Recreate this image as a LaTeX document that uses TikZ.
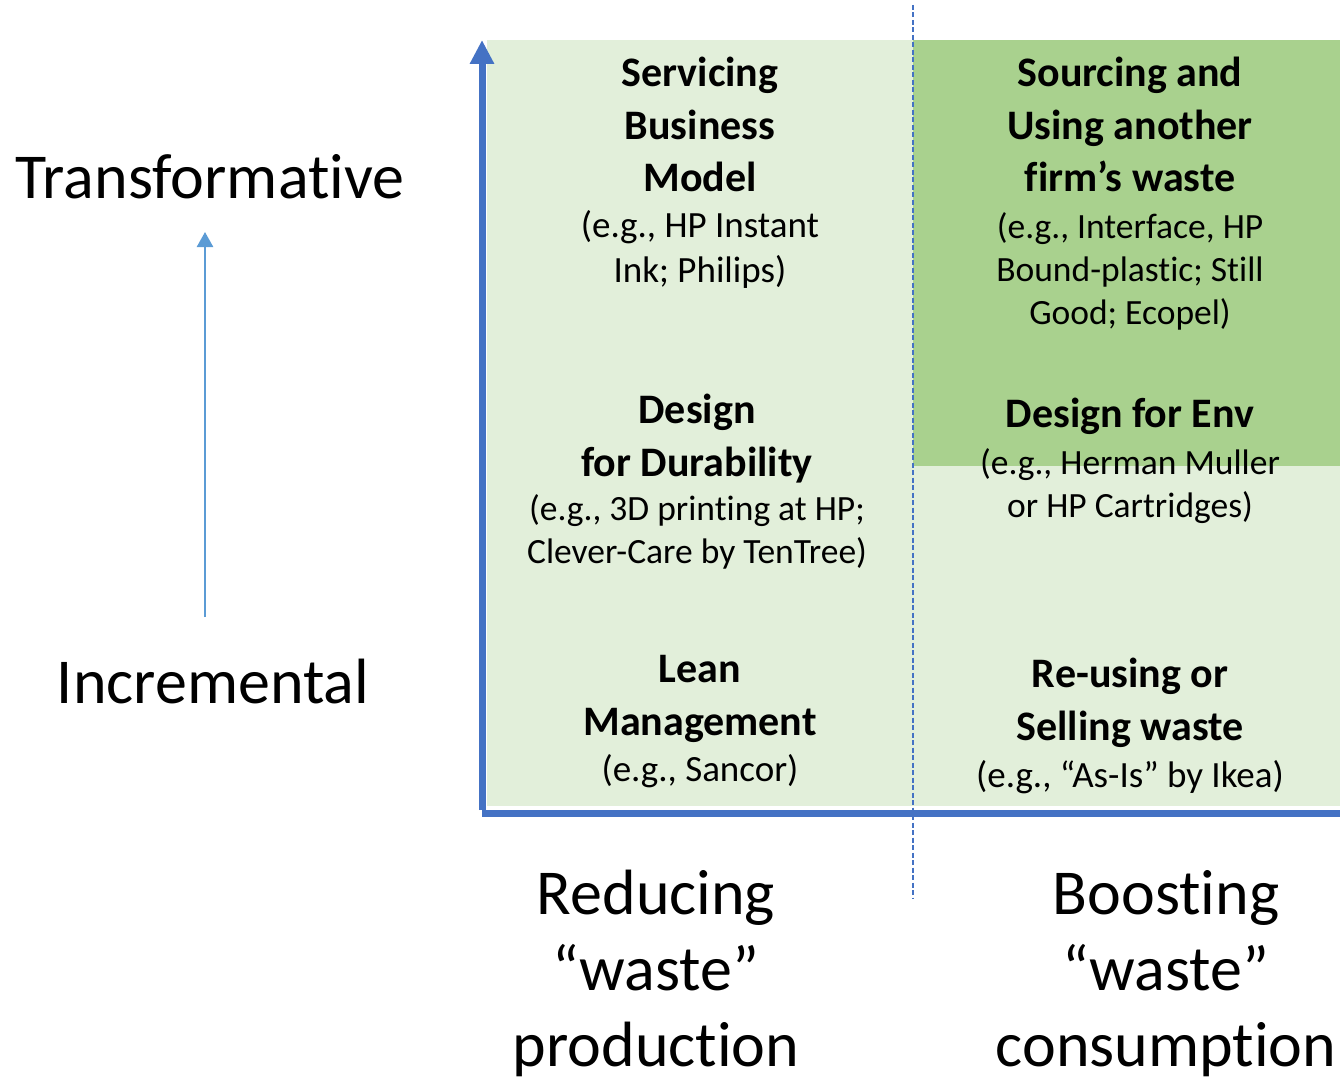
\documentclass[tikz,border=0pt]{standalone}
\usepackage{fontspec}
\setmainfont{Carlito}[Ligatures={NoCommon,NoContextual}]
\usetikzlibrary{arrows.meta}
\definecolor{lightgr}{HTML}{E2EFDA}
\definecolor{darkgr}{HTML}{A9D18E}
\definecolor{axisblue}{HTML}{4472C4}
\definecolor{arrowblue}{HTML}{5B9BD5}
\begin{document}
\begin{tikzpicture}[x=1pt,y=-1pt,
  title/.style={font=\fontsize{42}{52.5}\selectfont\bfseries, align=center, anchor=base, inner sep=0pt},
  example/.style={font=\fontsize{37}{45}\selectfont, align=center, anchor=base, inner sep=0pt},
  examplesm/.style={font=\fontsize{35.5}{43}\selectfont, align=center, anchor=base, inner sep=0pt},
  big/.style={font=\fontsize{64}{76}\selectfont, align=center, anchor=base, inner sep=0pt},
  axis/.style={draw=axisblue, line width=7pt},
  divider/.style={draw=axisblue, line width=2pt, dash pattern=on 5pt off 2.5pt},
  scalearrow/.style={draw=arrowblue, line width=2.5pt, -{Triangle[width=16pt,length=15pt]}}]
\useasboundingbox (0,0) rectangle (1340,1078);
% quadrant fills
\fill[lightgr] (487,40) rectangle (1340,806);
\fill[darkgr] (913,40) rectangle (1340,466);
% coordinates
\coordinate (origin) at (482,810);
\coordinate (ytop) at (482,40);
\coordinate (xstart) at (482,813);
\coordinate (xend) at (1340,813);
\coordinate (dtop) at (913,5);
\coordinate (dbot) at (913,898);
\coordinate (sbot) at (205,617);
\coordinate (stop) at (205,232);
% axes
\draw[axis, -{Triangle[width=23pt,length=24pt]}] (origin) -- (ytop);
\draw[axis] (xstart) -- (xend);
\draw[divider] (dtop) -- (dbot);
\draw[scalearrow] (sbot) -- (stop);
% left labels
\node[big] (transf) at (210,198) {Transformative};
\node[big] (incr) at (213,703) {Incremental};
% bottom labels (anchor = baseline of last line)
\node[big] (reduce) at (656,1066) {Reducing\\“waste”\\production};
\node[big] (boost) at (1166,1066) {Boosting\\“waste”\\consumption};
% left column
\node[title] (serv) at (700,192) {Servicing\\Business\\Model};
\node[example] (servex) at (700,282) {(e.g., HP Instant\\Ink; Philips)};
\node[title] (dur) at (697,476) {Design\\for Durability};
\node[examplesm] (durex) at (697,563) {(e.g., 3D printing at HP;\\Clever-Care by TenTree)};
\node[title] (lean) at (700,735) {Lean\\Management};
\node[example] (leanex) at (700,781) {(e.g., Sancor)};
% right column
\node[title] (src) at (1130,192) {Sourcing and\\Using another\\firm’s waste};
\node[examplesm] (srcex) at (1130,324) {(e.g., Interface, HP\\Bound-plastic; Still\\Good; Ecopel)};
\node[title] (env) at (1130,427) {Design for Env};
\node[examplesm] (envex) at (1130,517) {(e.g., Herman Muller\\or HP Cartridges)};
\node[title] (reuse) at (1130,740) {Re-using or\\Selling waste};
\node[example] (reuseex) at (1130,787) {(e.g., “As-Is” by Ikea)};
\end{tikzpicture}
\end{document}
